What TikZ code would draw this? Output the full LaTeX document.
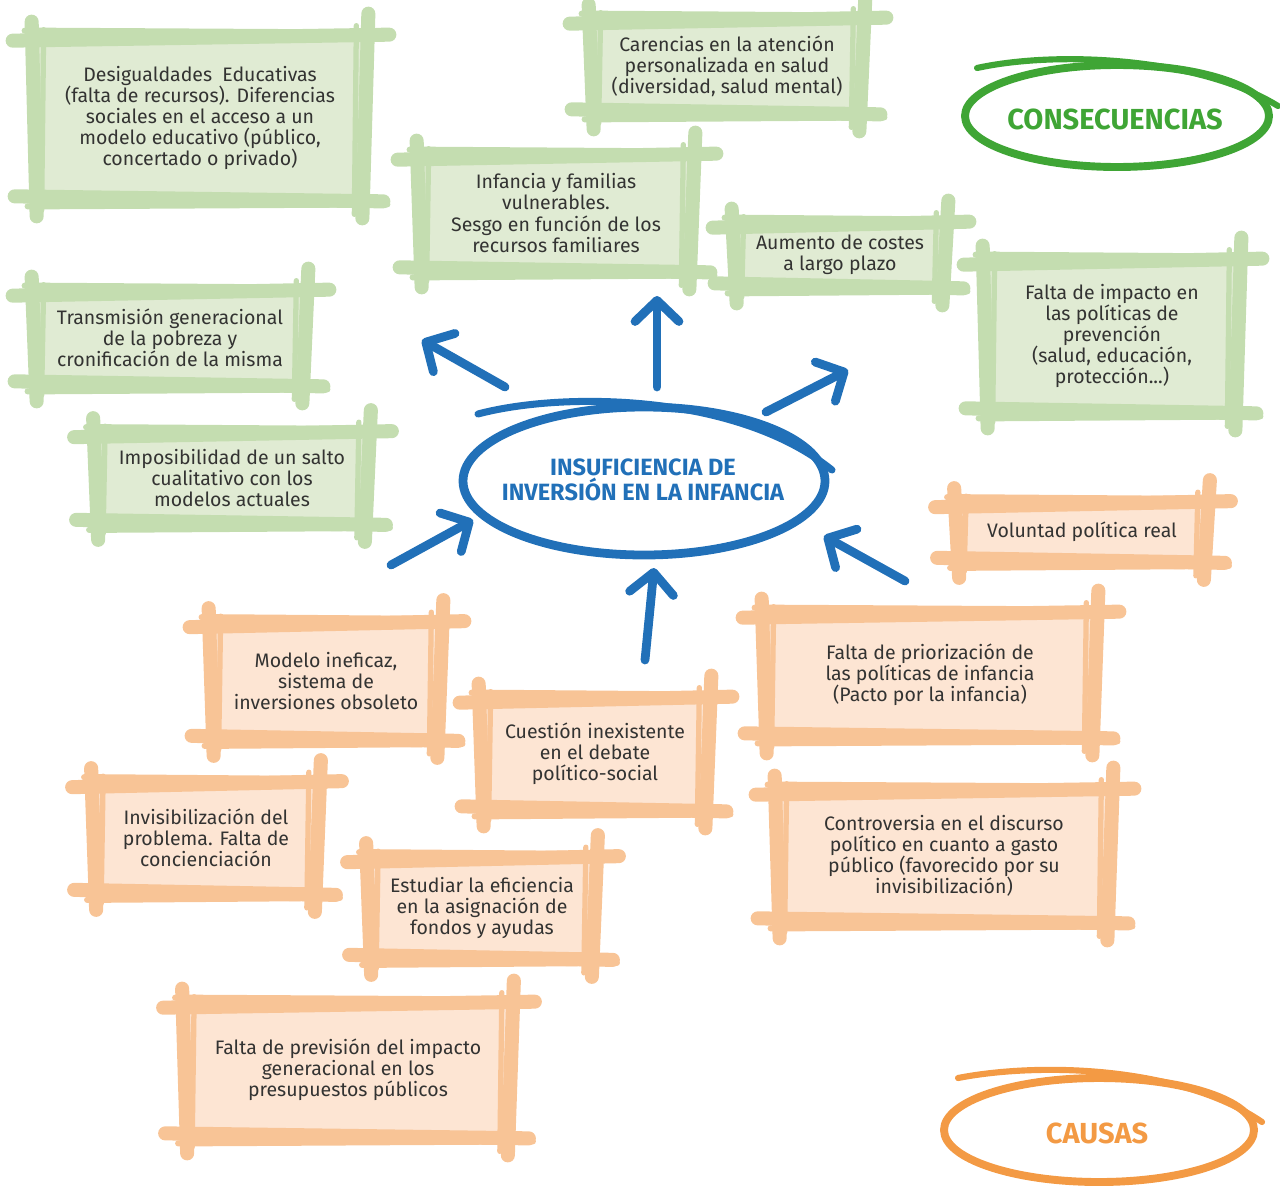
\documentclass[tikz,border=0pt]{standalone}
\usepackage{fontspec}
\setmainfont{Fira Sans}
\usetikzlibrary{calc,arrows.meta}
\definecolor{gbar}{HTML}{C4DDB0}
\definecolor{gfill}{HTML}{E0EBD3}
\definecolor{obar}{HTML}{F8C496}
\definecolor{ofill}{HTML}{FDE5D3}
\definecolor{txtc}{HTML}{333332}
\definecolor{blu}{HTML}{2170B8}
\definecolor{grn}{HTML}{3FA535}
\definecolor{org}{HTML}{F39A44}
\newcommand\skframe[2]{%
  \begin{scope}[#2, line cap=round]
  \draw[line width=8pt] ($(#1.north west)+(-22,3)$) -- ($(#1.north east)+(24,-3)$);
  \draw[line width=3.5pt] ($(#1.north west)+(-10,-7)$) -- ($(#1.north east)+(14,-5)$);
  \draw[line width=8pt] ($(#1.south west)+(-20,-2)$) -- ($(#1.south east)+(18,3)$);
  \draw[line width=3.5pt] ($(#1.south west)+(-7,8)$) -- ($(#1.south east)+(22,6)$);
  \draw[line width=8pt] ($(#1.north west)+(-3,-16)$) -- ($(#1.south west)+(2,18)$);
  \draw[line width=3pt] ($(#1.north west)+(9,-8)$) -- ($(#1.south west)+(7,12)$);
  \draw[line width=8pt] ($(#1.north east)+(3,-24)$) -- ($(#1.south east)+(-3,20)$);
  \draw[line width=3pt] ($(#1.north east)+(-9,-12)$) -- ($(#1.south east)+(-11,16)$);
  \end{scope}}
\begin{document}
\begin{tikzpicture}[x=0.02cm,y=-0.02cm,
  box/.style n args={3}{rectangle, fill=#3, text=txtc, align=center, inner sep=0pt,
     font=\fontsize{11.1}{12}\selectfont, minimum width=#1*0.02cm, minimum height=#2*0.02cm},
  gbox/.style 2 args={box={#1}{#2}{gfill}},
  obox/.style 2 args={box={#1}{#2}{ofill}},
  barrow/.style={blu, line width=5pt, line cap=round,
     -{Straight Barb[length=12pt,width=25pt,round]}}]
\useasboundingbox (0,0) rectangle (1280,1186);

% ---------- consequences (green)
\node[gbox={330}{160}] (b1) at (200,118) {Desigualdades\ \ Educativas\\(falta de recursos). Diferencias\\sociales en el acceso a un\\modelo educativo (público,\\concertado o privado)};
\node[gbox={270}{90}] (b2) at (727,66) {Carencias en la atención\\personalizada en salud\\(diversidad, salud mental)};
\node[gbox={272}{112}] (b3) at (556,213) {Infancia y familias\\vulnerables.\\Sesgo en función de los\\recursos familiares};
\node[gbox={210}{60}] (b4) at (840,255) {Aumento de costes\\a largo plazo};
\node[gbox={252}{148}] (b5) at (1112,336) {Falta de impacto en\\las políticas de\\prevención\\(salud, educación,\\protección...)};
\node[gbox={270}{90}] (b6) at (170,338) {Transmisión generacional\\de la pobreza y\\cronificación de la misma};
\node[gbox={271}{87}] (b7) at (232,478) {Imposibilidad de un salto\\cualitativo con los\\modelos actuales};
\foreach \b in {b1,b2,b3,b4,b5,b6,b7}{\skframe{\b}{gbar}}

% ---------- causes (orange)
\node[obox={249}{55}] (b8) at (1082,532) {Voluntad política real};
\node[obox={228}{113}] (b9) at (326,681) {Modelo ineficaz,\\sistema de\\inversiones obsoleto};
\node[obox={226}{108}] (b10) at (595,754) {Cuestión inexistente\\en el debate\\político-social};
\node[obox={330}{120}] (b11) at (930,675) {Falta de priorización de\\las políticas de infancia\\(Pacto por la infancia)};
\node[obox={223}{107}] (b12) at (206,838) {Invisibilización del\\problema. Falta de\\concienciación};
\node[obox={332}{128}] (b13) at (944,856) {Controversia en el discurso\\político en cuanto a gasto\\público (favorecido por su\\invisibilización)};
\node[obox={225}{97}] (b14) at (482,908) {Estudiar la eficiencia\\en la asignación de\\fondos y ayudas};
\node[obox={325}{130}] (b15) at (348,1070) {Falta de previsión del impacto\\generacional en los\\presupuestos públicos};
\foreach \b in {b8,b9,b10,b11,b12,b13,b14,b15}{\skframe{\b}{obar}}

% ---------- central ellipse
\draw[blu, line width=5pt] (644,481) ellipse [x radius=181, y radius=74];
\draw[blu, line width=4pt, line cap=round] (478,414) .. controls (560,392) and (735,392) .. (832,470);
\node[blu, align=center, font=\bfseries\fontsize{13.4}{12}\selectfont] (core) at (643,480) {INSUFICIENCIA DE\\INVERSIÓN EN LA INFANCIA};

% ---------- legend ellipses
\draw[grn, line width=4.5pt] (1117,116) ellipse [x radius=152, y radius=51];
\draw[grn, line width=3.5pt, line cap=round] (977,68) .. controls (1060,50) and (1200,58) .. (1278,106);
\node[grn, font=\bfseries\fontsize{16.5}{18}\selectfont] (cons) at (1115,119) {CONSECUENCIAS};

\draw[org, line width=4.5pt] (1099,1130) ellipse [x radius=155, y radius=52];
\draw[org, line width=3.5pt, line cap=round] (958,1078) .. controls (1040,1062) and (1180,1066) .. (1262,1122);
\node[org, font=\bfseries\fontsize{16.5}{18}\selectfont] (caus) at (1097,1133) {CAUSAS};

% ---------- arrows
\coordinate (a1s) at (505,387); \coordinate (a1e) at (422,340);
\coordinate (a2s) at (657,387); \coordinate (a2e) at (657,296);
\coordinate (a3s) at (766,412); \coordinate (a3e) at (848,370);
\coordinate (a4s) at (391,565); \coordinate (a4e) at (473,520);
\coordinate (a5s) at (645,660); \coordinate (a5e) at (654,568);
\coordinate (a6s) at (905,581); \coordinate (a6e) at (824,536);
\foreach \i in {1,...,6}{\draw[barrow] (a\i s) -- (a\i e);}
\end{tikzpicture}
\end{document}
